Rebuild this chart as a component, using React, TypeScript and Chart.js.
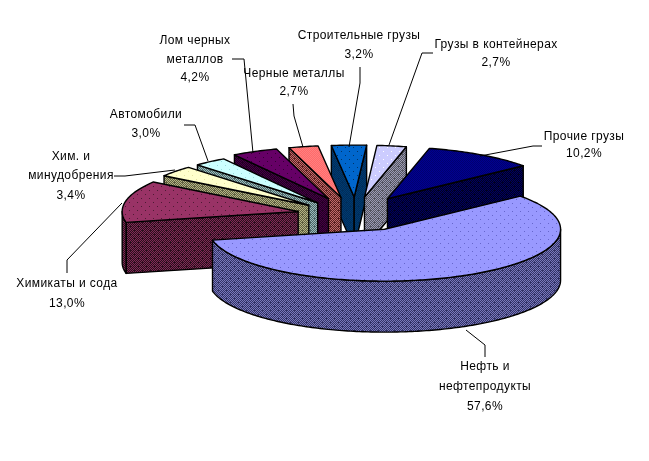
import React, { useEffect, useRef } from "react";
import { Chart, registerables } from "chart.js";

Chart.register(...registerables);

// ---- data ----
const categories = [
  "Нефть и\nнефтепродукты",
  "Химикаты и сода",
  "Хим. и\nминудобрения",
  "Автомобили",
  "Лом черных\nметаллов",
  "Черные металлы",
  "Строительные грузы",
  "Грузы в контейнерах",
  "Прочие грузы",
];
const shares = [57.6, 13.0, 3.4, 3.0, 4.2, 2.7, 3.2, 2.7, 10.2];

// ---- style per slice: top colour, top dots, top alternate, wall colours ----
const topColors = ["#9999FF", "#993366", "#FFFFCC", "#CCFFFF", "#660066", "#FF8080", "#0066CC", "#CCCCFF", "#000090"];
const topAlt = ["#9999FF", "#993366", "#FFFFCC", "#CCFFFF", "#660066", "#FF6A6A", "#0066CC", "#CCCCFF", "#000070"];
const dotColors = ["#6666CC", "#4D1A33", "#E6E6A0", "#99DDDD", "#330033", "#FF8080", "#003366", "#FFFFFF", "#000090"];
const wallA = ["#7878BB", "#7F2A55", "#B4B484", "#99BBBB", "#440044", "#C06A6A", "#003A70", "#9A9AB4", "#000060"];
const wallB = ["#333366", "#2A0E1C", "#5E5E40", "#4D6666", "#220022", "#5A2020", "#002D5A", "#555560", "#000020"];

// ---- geometry ----
const TILT = 0.295;
const DEPTH = 51;
const RADIUS = 176;
const EXPLODE = 61;
const paintOrder = [6, 5, 7, 4, 3, 2, 8, 1, 0];
// small screen-space corrections for the reference's perspective
const nudges = [[0, 0], [0, 2], [-3, 4], [-3, 4], [-4, 2], [-4, 2], [-2, 2], [-3, 2], [-3, 1]];

// ---- label layout: centre x, line y's, leader polyline ----
const labelLayout: { x: number; ys: number[]; leader: number[][] }[] = [
  { x: 485, ys: [367, 387, 407], leader: [[485, 357], [485, 345], [466, 330]] },
  { x: 67, ys: [284, 304], leader: [[67, 273], [67, 260], [122, 203]] },
  { x: 71, ys: [157, 176, 196], leader: [[114, 176], [125, 176], [175, 170]] },
  { x: 146, ys: [115, 134], leader: [[184, 125], [195, 125], [208, 161]] },
  { x: 195, ys: [41, 60, 78], leader: [[232, 59], [244, 59], [253, 153]] },
  { x: 294, ys: [74, 92], leader: [[293, 104], [294, 116], [303, 147]] },
  { x: 359, ys: [36, 55], leader: [[360, 67], [360, 83], [349, 147]] },
  { x: 496, ys: [45, 63], leader: [[433, 53], [422, 53], [389, 145]] },
  { x: 584, ys: [137, 154], leader: [[542, 146], [533, 146], [480, 156]] },
];

function tile(paint: (c: CanvasRenderingContext2D) => void, size = 8): HTMLCanvasElement {
  const t = document.createElement("canvas");
  t.width = size;
  t.height = size;
  paint(t.getContext("2d")!);
  return t;
}

function topPattern(ctx: CanvasRenderingContext2D, i: number): CanvasPattern {
  const t = tile((c) => {
    for (let y = 0; y < 8; y++)
      for (let x = 0; x < 8; x++) {
        c.fillStyle = (x + y) % 2 ? topAlt[i] : topColors[i];
        c.fillRect(x, y, 1, 1);
      }
    c.fillStyle = dotColors[i];
    c.fillRect(1, 1, 1, 1);
    c.fillRect(5, 5, 1, 1);
  });
  const p = ctx.createPattern(t, "repeat")!;
  p.setTransform(new DOMMatrix().scale(1, 1 / TILT));
  return p;
}

function wallPattern(ctx: CanvasRenderingContext2D, i: number): CanvasPattern {
  const t = tile((c) => {
    for (let y = 0; y < 8; y++)
      for (let x = 0; x < 8; x++) {
        c.fillStyle = (x + y) % 2 ? wallB[i] : wallA[i];
        c.fillRect(x, y, 1, 1);
      }
    c.fillStyle = wallB[i];
    c.fillRect(2, 2, 1, 1);
    c.fillRect(6, 6, 1, 1);
  });
  return ctx.createPattern(t, "repeat")!;
}

const pie3d = {
  id: "pie3d",
  beforeDatasetsDraw(chart: any) {
    const ctx: CanvasRenderingContext2D = chart.ctx;
    const arcs = chart.getDatasetMeta(0).data;
    const walls = shares.map((_, i) => wallPattern(ctx, i));
    ctx.imageSmoothingEnabled = false;

    for (const i of paintOrder) {
      const arc = arcs[i];
      const { x: cx, y: cy, startAngle: a0, endAngle: a1, outerRadius: R } = arc;
      const mid = (a0 + a1) / 2;
      const ax = cx + Math.cos(mid) * EXPLODE + nudges[i][0];
      const ay = cy + Math.sin(mid) * EXPLODE * TILT + nudges[i][1];
      const P = (t: number): [number, number] => [ax + R * Math.cos(t), ay + R * Math.sin(t) * TILT];

      ctx.strokeStyle = "#000";
      ctx.lineWidth = 1.4;
      ctx.lineJoin = "round";

      const face = (pts: [number, number][]) => {
        ctx.beginPath();
        pts.forEach(([x, y], n) => (n ? ctx.lineTo(x, y) : ctx.moveTo(x, y)));
        ctx.closePath();
        ctx.fillStyle = walls[i];
        ctx.fill();
        ctx.stroke();
      };

      // radial walls facing the viewer
      const radial = (t: number) => {
        const [x, y] = P(t);
        face([[ax, ay], [x, y], [x, y + DEPTH], [ax, ay + DEPTH]]);
      };
      if (Math.sin(a0 - Math.PI / 2) > 0) radial(a0);
      if (Math.sin(a1 + Math.PI / 2) > 0) radial(a1);

      // curved wall, front half only
      for (let k = -1; k <= 2; k++) {
        const s = Math.max(a0, k * 2 * Math.PI);
        const e = Math.min(a1, k * 2 * Math.PI + Math.PI);
        if (e <= s) continue;
        const n = Math.max(2, Math.ceil((e - s) * 60));
        const up: [number, number][] = [];
        for (let j = 0; j <= n; j++) up.push(P(s + ((e - s) * j) / n));
        const down = up.slice().reverse().map(([x, y]) => [x, y + DEPTH] as [number, number]);
        face([...up, ...down]);
      }

      // top face: drawn by the library's own arc, exploded and squashed by the tilt
      ctx.save();
      ctx.translate(ax, ay);
      ctx.scale(1, TILT);
      ctx.translate(-cx, -cy);
      arc.draw(ctx, chart.chartArea);
      ctx.restore();

      // top outline at an even pen width
      ctx.beginPath();
      ctx.moveTo(ax, ay);
      const n = Math.ceil((a1 - a0) * 60);
      for (let j = 0; j <= n; j++) {
        const [x, y] = P(a0 + ((a1 - a0) * j) / n);
        ctx.lineTo(x, y);
      }
      ctx.closePath();
      ctx.stroke();
    }
    return false;
  },
  afterDraw(chart: any) {
    const ctx: CanvasRenderingContext2D = chart.ctx;
    ctx.save();
    ctx.strokeStyle = "#000";
    ctx.lineWidth = 1;
    labelLayout.forEach((l) => {
      ctx.beginPath();
      l.leader.forEach(([x, y], n) => (n ? ctx.lineTo(x, y) : ctx.moveTo(x, y)));
      ctx.stroke();
    });
    ctx.fillStyle = "#000";
    ctx.font = '12px "Liberation Sans"';
    ctx.textAlign = "center";
    ctx.textBaseline = "middle";
    (ctx as any).letterSpacing = "0.4px";
    categories.forEach((name, i) => {
      const lines = [...name.split("\n"), shares[i].toFixed(1).replace(".", ",") + "%"];
      lines.forEach((t, j) => ctx.fillText(t, labelLayout[i].x, labelLayout[i].ys[j]));
    });
    ctx.restore();
  },
};

export default function App() {
  const ref = useRef<HTMLCanvasElement>(null);
  useEffect(() => {
    const canvas = ref.current!;
    const ctx = canvas.getContext("2d")!;
    const chart = new Chart(ctx, {
      type: "pie",
      data: {
        labels: categories.map((c) => c.replace("\n", " ")),
        datasets: [
          {
            data: shares,
            backgroundColor: shares.map((_, i) => topPattern(ctx, i)),
            borderWidth: 0,
          },
        ],
      },
      options: {
        responsive: false,
        animation: false,
        rotation: 50.5,
        radius: RADIUS,
        layout: { padding: { left: 67, bottom: 35 } },
        plugins: { legend: { display: false }, tooltip: { enabled: false }, title: { display: false } },
        events: [],
      },
      plugins: [pie3d],
    } as any);
    return () => chart.destroy();
  }, []);
  return (
    <canvas
      ref={ref}
      width={649}
      height={461}
      style={{ position: "absolute", left: 0, top: 0, width: 649, height: 461, display: "block", background: "#fff" }}
    />
  );
}
